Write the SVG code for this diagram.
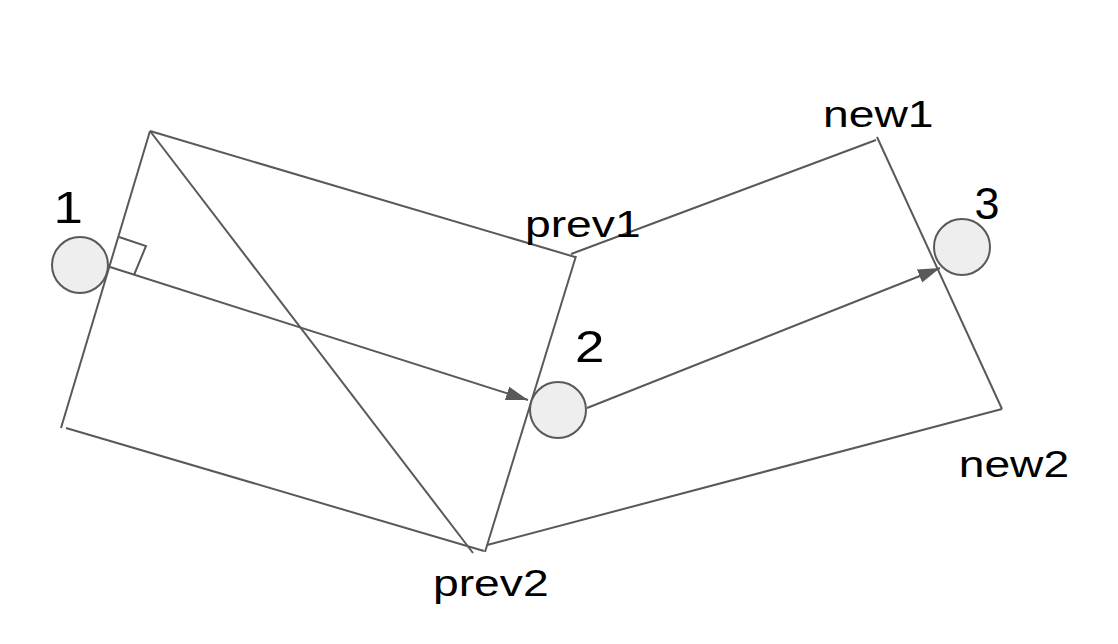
<svg xmlns="http://www.w3.org/2000/svg" width="1118" height="644" viewBox="0 0 1118 644">
<defs>
<style>
.ln{stroke:#595959;stroke-width:2;fill:none;stroke-linecap:butt}
.nd{fill:#eeeeee;stroke:#595959;stroke-width:2}
.lbl{font-family:"Liberation Sans",Arial,sans-serif;font-size:37px;fill:#000}
.num{font-family:"Liberation Sans",Arial,sans-serif;font-size:44px;fill:#000}
</style>
<marker id="ah" markerUnits="userSpaceOnUse" markerWidth="24" markerHeight="16" refX="22" refY="7" orient="auto">
<path d="M0,0 L22,7 L0,14 z" fill="#595959"/>
</marker>
</defs>
<rect width="1118" height="644" fill="#ffffff"/>
<g id="connectors">
<line class="ln" x1="150" y1="131" x2="61" y2="428"/>
<line class="ln" x1="150" y1="131" x2="575" y2="257"/>
<line class="ln" x1="150" y1="131" x2="473" y2="553"/>
<line class="ln" x1="576" y1="256" x2="485" y2="552"/>
<line class="ln" x1="66" y1="428" x2="484" y2="551"/>
<line class="ln" x1="571" y1="254" x2="876" y2="140"/>
<line class="ln" x1="877" y1="137" x2="1002" y2="409"/>
<line class="ln" x1="1002" y1="409" x2="487" y2="545"/>
<polyline class="ln" points="119,237 146,246 134,275"/>
<line class="ln" x1="110" y1="267" x2="528" y2="400" marker-end="url(#ah)"/>
<line class="ln" x1="587" y1="408" x2="940" y2="268" marker-end="url(#ah)"/>
</g>
<g id="node1">
<circle class="nd" cx="80" cy="265" r="28"/>
<text class="num" x="53.5" y="223.3" textLength="29.4" lengthAdjust="spacingAndGlyphs">1</text>
</g>
<g id="node2">
<circle class="nd" cx="558" cy="410" r="28"/>
<text class="num" x="575" y="361.7" textLength="29.4" lengthAdjust="spacingAndGlyphs">2</text>
</g>
<g id="node3">
<circle class="nd" cx="962" cy="247" r="28"/>
<text class="num" x="974.5" y="219" textLength="25" lengthAdjust="spacingAndGlyphs">3</text>
</g>
<g id="label-prev1"><text class="lbl" x="525" y="236.7" textLength="115.7" lengthAdjust="spacingAndGlyphs">prev1</text></g>
<g id="label-prev2"><text class="lbl" x="433" y="595.7" textLength="115.7" lengthAdjust="spacingAndGlyphs">prev2</text></g>
<g id="label-new1"><text class="lbl" x="823" y="126.7" textLength="110.5" lengthAdjust="spacingAndGlyphs">new1</text></g>
<g id="label-new2"><text class="lbl" x="958.7" y="476.7" textLength="110.5" lengthAdjust="spacingAndGlyphs">new2</text></g>
</svg>
